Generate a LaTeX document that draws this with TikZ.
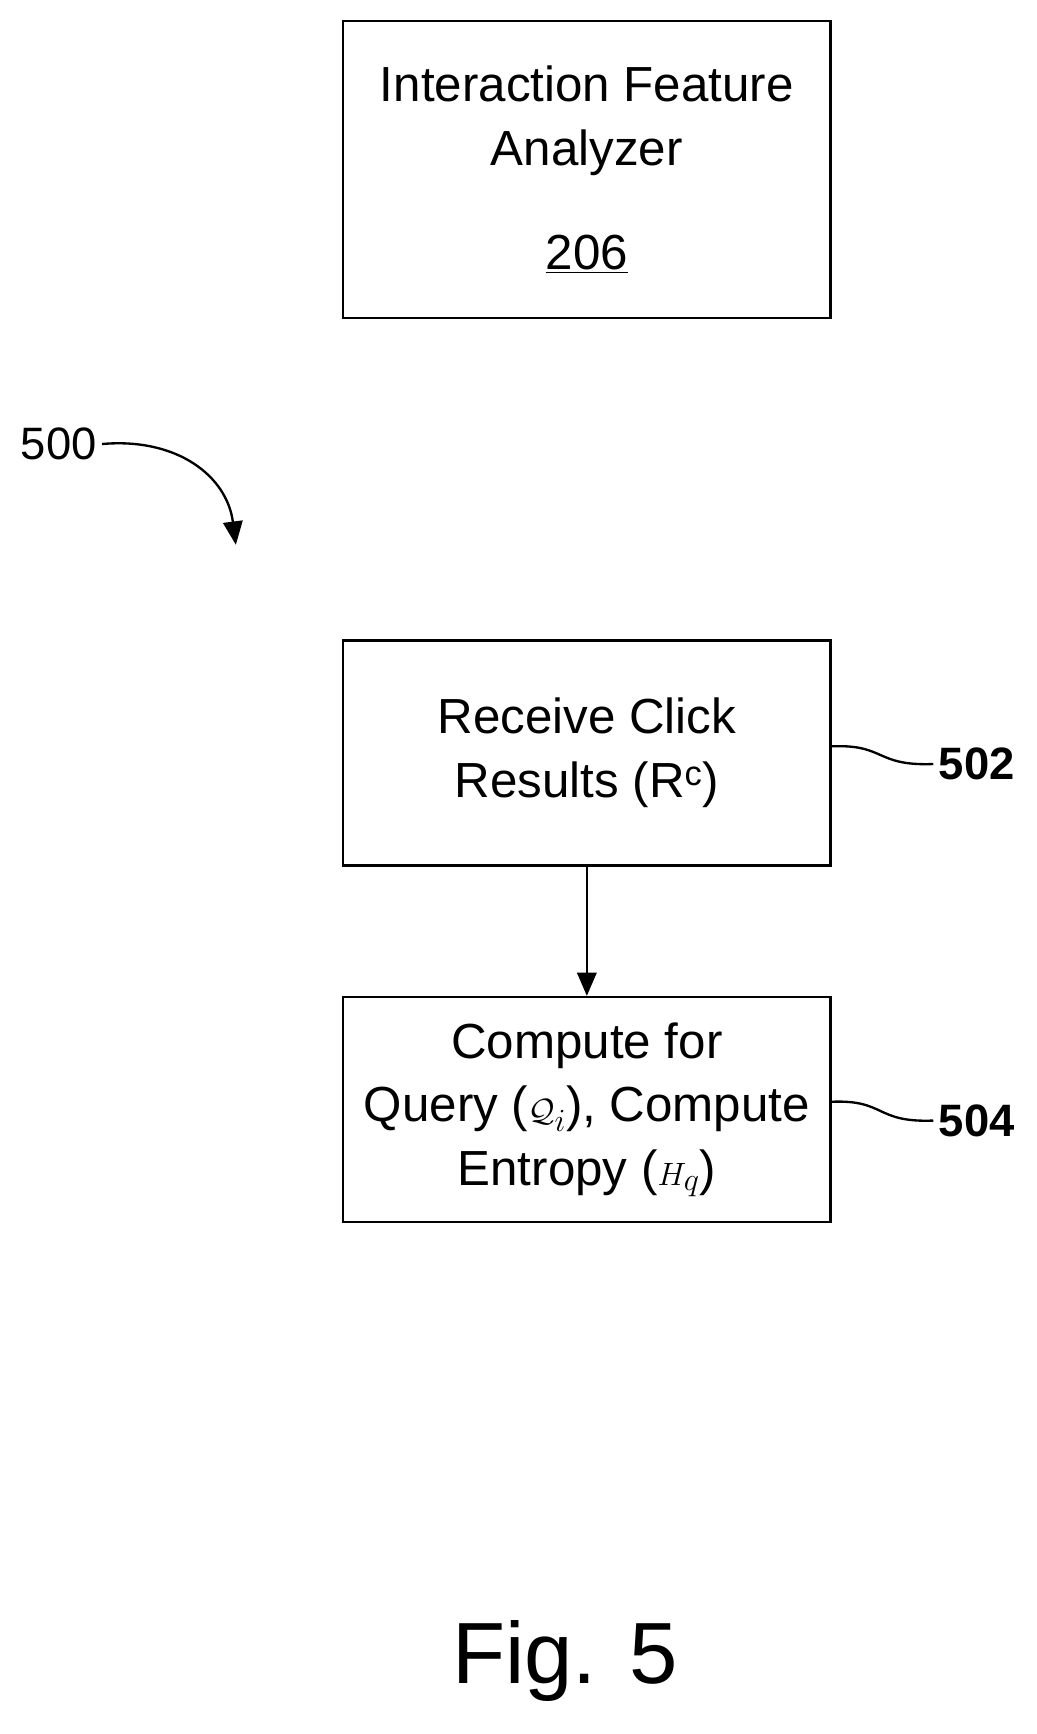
\documentclass[tikz,border=0pt]{standalone}
\usepackage{fontspec}
\setmainfont{Liberation Sans}
\usetikzlibrary{positioning,arrows.meta}
\tikzset{box/.style={draw,line width=1.8pt,minimum width=13.2cm,minimum height=6.1cm,align=center,font=\fontsize{38}{49}\selectfont},
  lbl/.style={font=\fontsize{35}{40}\selectfont}}
\begin{document}
\begin{tikzpicture}[x=0.03cm,y=-0.03cm,line width=1.8pt]
  \useasboundingbox (0,0) rectangle (936,1566);
  \node[box,minimum height=8.04cm] (ifa) at (530,153) {Interaction Feature\\Analyzer\\[1.1cm]\underline{206}};
  \node[box] (recv) at (530,680) {Receive Click\\Results (R\textsuperscript{c})};
  \node[box,below=3.5cm of recv] (comp) {Compute for\\Query ($\mathcal{Q}_i$), Compute\\Entropy ($H_q$)};
  \draw[-{Triangle[length=18pt,width=15pt]}] (recv) -- (comp);
  \node[lbl,font=\bfseries\fontsize{35}{40}\selectfont] (l502) at (882,690) {502};
  \node[lbl,font=\bfseries\fontsize{35}{40}\selectfont] (l504) at (882,1012) {504};
  \draw (recv.east |- 0,674) .. controls (800,672) and (790,692) .. (l502.west);
  \draw (comp.east |- 0,995) .. controls (800,993) and (790,1014) .. (l504.west);
  \node[lbl] (l500) at (53,401) {500};
  \draw[-{Triangle[length=18pt,width=15pt]}] (l500.east) .. controls (160,395) and (205,430) .. (213,492);
  \node[font=\fontsize{67}{75}\selectfont] (fig) at (510,1500) {Fig. 5};
\end{tikzpicture}
\end{document}
